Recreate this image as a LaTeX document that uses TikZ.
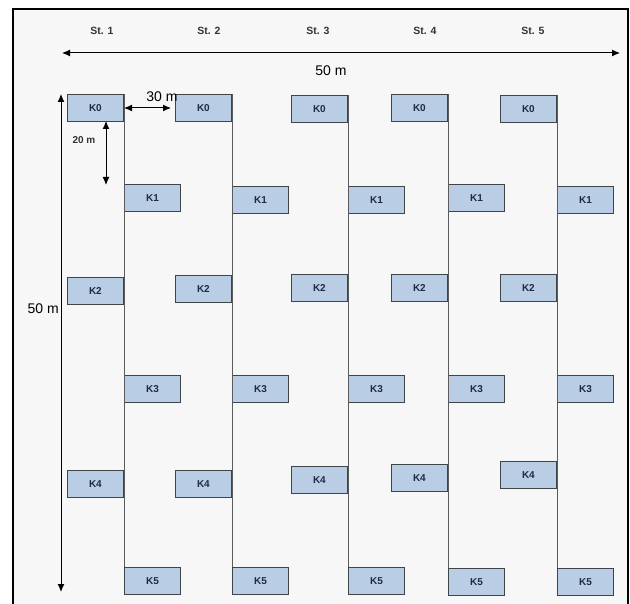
\documentclass[tikz,border=0pt]{standalone}
\usepackage{fontspec}
\setmainfont{Liberation Sans}
\usepackage{xcolor}
\usetikzlibrary{arrows.meta, positioning, calc}
\definecolor{PlotBlue}{HTML}{B9CDE5}
\definecolor{EdgeGrey}{HTML}{3F4449}
\definecolor{LabelNavy}{HTML}{1E2B45}
\definecolor{PaperGrey}{HTML}{F8F7F7}
\definecolor{LineGrey}{HTML}{5A5A5A}

\begin{document}
\begin{tikzpicture}[x=1pt, y=-1pt, >={Latex[length=8pt,width=7pt]}, every node/.style={font=\fontsize{10}{12}\selectfont}]
    \tikzstyle{plot} = [rectangle, draw=EdgeGrey, fill=PlotBlue, line width=1.2pt, minimum width=56pt, minimum height=27pt, inner sep=0pt, text=LabelNavy, font=\fontsize{10}{12}\selectfont\bfseries]
    \tikzstyle{station} = [text=black!80, font=\fontsize{10.5}{12}\selectfont\bfseries]
    \tikzstyle{dist} = [font=\fontsize{14}{16}\selectfont]
    \tikzstyle{transect} = [draw=LineGrey, line width=1pt]
    \tikzstyle{measure} = [draw, <->, line width=1pt]

    \useasboundingbox (0,0) rectangle (630,604);
    \draw [black, line width=1.5pt, fill=PaperGrey] (13,9) rectangle (628,620);

    % station headings
    \node [station] (st1) at (102,31) {St. 1};
    \node [station] (st2) at (209,31) {St. 2};
    \node [station] (st3) at (318,31) {St. 3};
    \node [station] (st4) at (425,31) {St. 4};
    \node [station] (st5) at (533,31) {St. 5};

    % station 1
    \node [plot, anchor=east] (s1k0) at (124,108) {K0};
    \node [plot, anchor=west] (s1k1) at (124,198) {K1};
    \node [plot, anchor=east] (s1k2) at (124,291) {K2};
    \node [plot, anchor=west] (s1k3) at (124,389) {K3};
    \node [plot, anchor=east] (s1k4) at (124,484) {K4};
    \node [plot, anchor=west] (s1k5) at (124,581) {K5};
    % station 2
    \node [plot, anchor=east] (s2k0) at (232,108) {K0};
    \node [plot, anchor=west] (s2k1) at (232,200) {K1};
    \node [plot, anchor=east] (s2k2) at (232,289) {K2};
    \node [plot, anchor=west] (s2k3) at (232,389) {K3};
    \node [plot, anchor=east] (s2k4) at (232,484) {K4};
    \node [plot, anchor=west] (s2k5) at (232,581) {K5};
    % station 3
    \node [plot, anchor=east] (s3k0) at (348,109) {K0};
    \node [plot, anchor=west] (s3k1) at (348,200) {K1};
    \node [plot, anchor=east] (s3k2) at (348,288) {K2};
    \node [plot, anchor=west] (s3k3) at (348,389) {K3};
    \node [plot, anchor=east] (s3k4) at (348,480) {K4};
    \node [plot, anchor=west] (s3k5) at (348,581) {K5};
    % station 4
    \node [plot, anchor=east] (s4k0) at (448,108) {K0};
    \node [plot, anchor=west] (s4k1) at (448,198) {K1};
    \node [plot, anchor=east] (s4k2) at (448,288) {K2};
    \node [plot, anchor=west] (s4k3) at (448,389) {K3};
    \node [plot, anchor=east] (s4k4) at (448,478) {K4};
    \node [plot, anchor=west] (s4k5) at (448,582) {K5};
    % station 5
    \node [plot, anchor=east] (s5k0) at (557,109) {K0};
    \node [plot, anchor=west] (s5k1) at (557,200) {K1};
    \node [plot, anchor=east] (s5k2) at (557,288) {K2};
    \node [plot, anchor=west] (s5k3) at (557,389) {K3};
    \node [plot, anchor=east] (s5k4) at (557,475) {K4};
    \node [plot, anchor=west] (s5k5) at (557,582) {K5};

    % transect lines
    \path [transect] (s1k0.north east) -- (s1k5.north west);
    \path [transect] (s2k0.north east) -- (s2k5.north west);
    \path [transect] (s3k0.north east) -- (s3k5.north west);
    \path [transect] (s4k0.north east) -- (s4k5.north west);
    \path [transect] (s5k0.north east) -- (s5k5.north west);

    % overall dimensions
    \coordinate (wleft) at (62,53);
    \coordinate (wright) at (620,53);
    \coordinate (htop) at (61,94);
    \coordinate (hbot) at (61,592);
    \path [measure] (wleft) -- (wright);
    \path [measure] (htop) -- (hbot);
    \node [dist] (width) at (331,71) {50 m};
    \node [dist, anchor=east, inner sep=1pt] (height) at (60,309) {50 m};

    % spacing between plots
    \coordinate (gapend) at (171,108);
    \coordinate (stepa) at (106,121);
    \coordinate (stepb) at (106,185);
    \path [measure] (s1k0.east) -- (gapend);
    \path [measure] (stepa) -- (stepb);
    \node [dist] (gap) at (162,97) {30 m};
    \node [station, font=\fontsize{10}{12}\selectfont\bfseries] (step) at (84,140) {20 m};
\end{tikzpicture}
\end{document}
